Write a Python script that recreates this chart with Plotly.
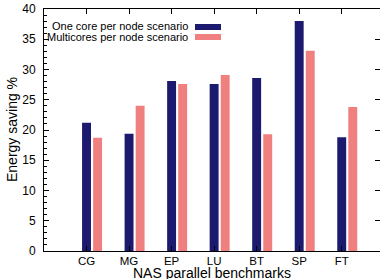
import plotly.graph_objects as go

categories = ["CG", "MG", "EP", "LU", "BT", "SP", "FT"]
one_core = [21.2, 19.4, 28.1, 27.6, 28.6, 38.0, 18.8]
multi_core = [18.7, 24.0, 27.6, 29.1, 19.3, 33.1, 23.8]
series_names = ["One core per node scenario", "Multicores per node scenario"]
colors = ["#1b1a6e", "#f08080"]

pos = list(range(1, len(categories) + 1))
bar_w = 0.21
shift = 0.26

FONT = "Liberation Sans, Arial, Helvetica, sans-serif"

fig = go.Figure()
fig.add_trace(go.Bar(x=pos, y=one_core, width=bar_w, marker=dict(color=colors[0], line=dict(width=0)),
                     name=series_names[0], showlegend=False))
fig.add_trace(go.Bar(x=[p + shift for p in pos], y=multi_core, width=bar_w,
                     marker=dict(color=colors[1], line=dict(width=0)),
                     name=series_names[1], showlegend=False))
# invisible trace to activate right axis
fig.add_trace(go.Scatter(x=[pos[0]], y=[0], yaxis="y2", mode="markers",
                         marker=dict(opacity=0), showlegend=False, hoverinfo="skip"))

fig.update_layout(
    width=380, height=279,
    margin=dict(l=44, r=0, t=9, b=28, autoexpand=False),
    paper_bgcolor="white", plot_bgcolor="white",
    barmode="overlay",
    font=dict(family=FONT, size=11, color="black"),
    xaxis=dict(range=[0, 7.9], tickvals=pos, ticktext=categories, ticks="inside", ticklen=5,
               tickcolor="black", showline=True, linecolor="black", linewidth=1, mirror="ticks",
               showgrid=False, zeroline=False, tickfont=dict(size=11.5), ticklabelstandoff=-1,
               automargin=False),
    yaxis=dict(range=[0, 40], tickvals=[0, 5, 10, 15, 20, 25, 30, 35, 40], ticks="inside", ticklen=5,
               tickcolor="black", showline=True, linecolor="black", linewidth=1,
               showgrid=False, zeroline=False, tickfont=dict(size=12), ticklabelstandoff=5,
               automargin=False,
               minor=dict(dtick=1, ticks="inside", ticklen=2.5, tickcolor="black")),
    yaxis2=dict(range=[0, 40], overlaying="y", side="right", tickvals=[0, 5, 10, 15, 20, 25, 30, 35, 40],
                ticks="inside", ticklen=5, tickcolor="black", showticklabels=False, automargin=False,
                showline=True, linecolor="black", linewidth=1, showgrid=False, zeroline=False),
)

# y title
fig.add_annotation(text="Energy saving %", textangle=-90, xref="paper", yref="paper",
                   x=(12 - 44) / 336, y=0.5, xanchor="center", yanchor="middle",
                   showarrow=False, font=dict(size=14))
# x title
fig.add_annotation(text="NAS parallel benchmarks", xref="paper", yref="paper",
                   x=0.5, y=(251 - 273) / 242, xanchor="center", yanchor="middle",
                   showarrow=False, font=dict(size=14))

# legend (gnuplot style: text right-aligned, sample to the right)
lx_text = (190 - 44) / 336
sw_x0 = (195 - 44) / 336
sw_x1 = (221 - 44) / 336
rows = [(26, 24, 30), (37, 34, 40)]
for name, col, (ty, y0, y1) in zip(series_names, colors, rows):
    fig.add_annotation(text=name, xref="paper", yref="paper", x=lx_text, y=(251 - ty) / 242,
                       xanchor="right", yanchor="middle", showarrow=False, font=dict(size=11))
    fig.add_shape(type="rect", xref="paper", yref="paper", x0=sw_x0, x1=sw_x1,
                  y0=(251 - y1) / 242, y1=(251 - y0) / 242, fillcolor=col, line=dict(width=0))

fig.write_html("out.html", config={"displayModeBar": False},
               post_script="document.body.style.margin='0px';document.body.style.overflow='hidden';")
